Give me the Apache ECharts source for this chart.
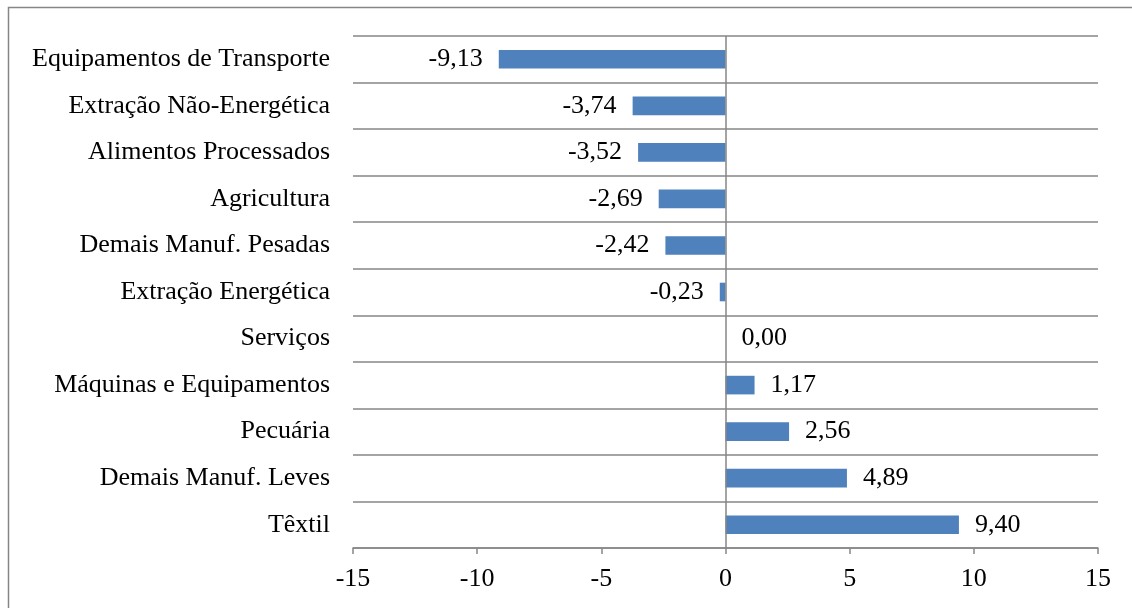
<!DOCTYPE html>
<html>
<head>
<meta charset="utf-8">
<script src="https://cdn.jsdelivr.net/npm/echarts@6/dist/echarts.min.js"></script>
<style>
  html, body { margin: 0; padding: 0; background: #fff; }
  #chart { width: 1132px; height: 608px; }
</style>
</head>
<body>
<div id="chart"></div>
<script>
// setores (de cima para baixo)
const categories = [
  'Equipamentos de Transporte',
  'Extração Não-Energética',
  'Alimentos Processados',
  'Agricultura',
  'Demais Manuf. Pesadas',
  'Extração Energética',
  'Serviços',
  'Máquinas e Equipamentos',
  'Pecuária',
  'Demais Manuf. Leves',
  'Têxtil'
]
const values = [-9.13, -3.74, -3.52, -2.69, -2.42, -0.23, 0.00, 1.17, 2.56, 4.89, 9.40]
const xTicks = [-15, -10, -5, 0, 5, 10, 15]

const gray = '#868686'
const font = '"Liberation Serif", "Times New Roman", serif'

const chart = echarts.init(document.getElementById('chart'))

const data = values.map(v => {
  return {
    value: v,
    label: { position: v < 0 ? 'left' : 'right' }
  }
})

chart.setOption({
  animation: false,
  textStyle: { fontFamily: font },
  graphic: [
    {
      type: 'rect',
      shape: { x: 8.5, y: 7.5, width: 1200, height: 700 },
      style: { fill: 'none', stroke: gray, lineWidth: 1.5 },
      silent: true
    }
  ],
  grid: {
    left: 353,
    right: 34,
    top: 36,
    bottom: 60
  },
  xAxis: {
    type: 'value',
    min: xTicks[0],
    max: xTicks[xTicks.length - 1],
    interval: 5,
    axisLine: { show: true, onZero: false, lineStyle: { color: gray, width: 1.5 } },
    axisTick: { show: true, length: 6, lineStyle: { color: gray, width: 1.5 } },
    splitLine: { show: false },
    axisLabel: {
      color: '#000',
      fontSize: 26,
      fontFamily: font,
      margin: 18
    }
  },
  yAxis: {
    type: 'category',
    data: categories,
    inverse: true,
    axisLine: { show: false, onZero: false },
    axisTick: { show: false },
    splitLine: { show: true, lineStyle: { color: gray, width: 1.5 } },
    axisLabel: {
      color: '#000',
      fontSize: 26,
      fontFamily: font,
      margin: 23
    }
  },
  series: [
    {
      type: 'bar',
      data: data,
      barCategoryGap: '60%',
      itemStyle: { color: '#4F81BD' },
      label: {
        show: true,
        distance: 16,
        color: '#000',
        fontSize: 26,
        fontFamily: font,
        formatter: p => p.value.toFixed(2).replace('.', ',')
      },
      markLine: {
        silent: true,
        symbol: 'none',
        label: { show: false },
        lineStyle: { color: gray, width: 1.5, type: 'solid' },
        data: [{ xAxis: 0 }]
      }
    }
  ]
})
</script>
</body>
</html>
